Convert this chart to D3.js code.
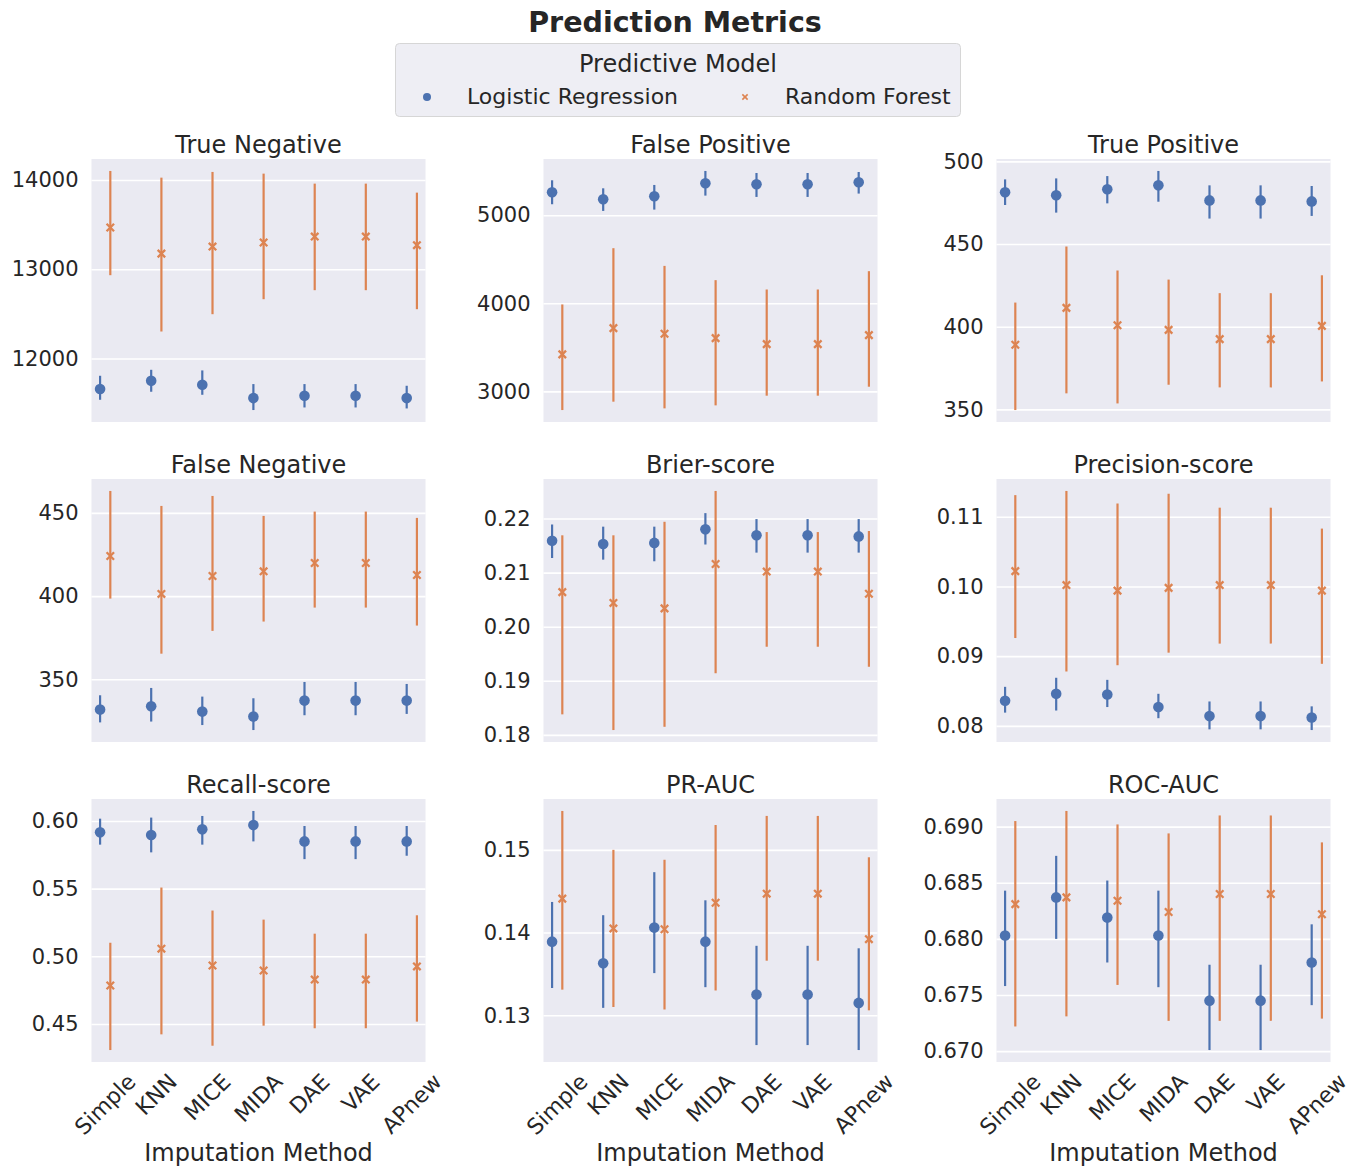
<!DOCTYPE html>
<html>
<head>
<meta charset="utf-8">
<script src="https://cdn.jsdelivr.net/npm/d3@7"></script>
<style>
  body { margin: 0; background: #fff; }
  svg text { font-family: "DejaVu Sans", sans-serif; fill: #262626; }
</style>
</head>
<body>
<div class="chart"></div>
<script>

const FRAME_WIDTH = 1356;
const FRAME_HEIGHT = 1170;

const CATEGORIES = ["Simple", "KNN", "MICE", "MIDA", "DAE", "VAE", "APnew"];
const MODELS = ["Logistic Regression", "Random Forest"];
const COLORS = ["#4C72B0", "#DD8452"];
const TITLES = ["True Negative", "False Positive", "True Positive",
                "False Negative", "Brier-score", "Precision-score",
                "Recall-score", "PR-AUC", "ROC-AUC"];

// [mean, low, high] for each imputation method
const TN_LR = [[11657,11537,11806],[11750,11627,11873],[11705,11593,11866],[11556,11422,11713],[11582,11451,11713],[11582,11451,11713],[11556,11440,11694]];
const TN_RF = [[13467,12933,14101],[13175,12302,14026],[13254,12496,14090],[13299,12664,14071],[13366,12765,13959],[13366,12765,13959],[13269,12552,13858]];
const FP_LR = [[5261,5125,5397],[5181,5049,5306],[5215,5064,5344],[5363,5223,5503],[5352,5208,5480],[5352,5208,5480],[5374,5246,5491]];
const FP_RF = [[3420,2788,3987],[3718,2883,4626],[3654,2807,4425],[3605,2841,4263],[3537,2951,4157],[3537,2951,4157],[3639,3053,4365]];
const TP_LR = [[481.3,473.6,489.1],[479.5,469.0,489.7],[483.1,474.6,491.1],[485.5,475.6,494.2],[476.4,465.4,485.5],[476.4,465.4,485.5],[475.8,467.0,485.1]];
const TP_RF = [[389.1,349.6,414.6],[411.4,359.7,448.5],[400.9,353.6,434.0],[398.1,364.9,428.5],[392.5,363.3,420.3],[392.5,363.3,420.3],[400.5,366.9,431.1]];
const FN_LR = [[331.8,324.1,340.4],[333.8,324.6,344.8],[330.6,322.5,339.6],[327.6,319.5,338.6],[337.2,328.4,348.4],[337.2,328.4,348.4],[337.2,329.2,347.2]];
const FN_RF = [[424.1,398.5,463.2],[401.3,365.4,454.2],[412.1,379.1,460.2],[414.9,384.7,448.2],[419.9,393.1,450.8],[419.9,393.1,450.8],[412.7,382.3,447.0]];
const BRIER_LR = [[0.2159,0.2127,0.2189],[0.2153,0.2124,0.2185],[0.2155,0.2121,0.2185],[0.2180,0.2152,0.2210],[0.2169,0.2137,0.2199],[0.2169,0.2137,0.2199],[0.2167,0.2137,0.2199]];
const BRIER_RF = [[0.2064,0.1838,0.2169],[0.2044,0.1809,0.2169],[0.2034,0.1815,0.2194],[0.2116,0.1914,0.2251],[0.2102,0.1963,0.2175],[0.2102,0.1963,0.2175],[0.2061,0.1926,0.2177]];
const PREC_LR = [[0.0836,0.0819,0.0856],[0.0846,0.0822,0.0869],[0.0845,0.0827,0.0866],[0.0827,0.0811,0.0846],[0.0814,0.0795,0.0835],[0.0814,0.0795,0.0835],[0.0812,0.0794,0.0828]];
const PREC_RF = [[0.1022,0.0926,0.1131],[0.1002,0.0878,0.1137],[0.0994,0.0887,0.1119],[0.0998,0.0905,0.1133],[0.1002,0.0918,0.1113],[0.1002,0.0918,0.1113],[0.0994,0.0889,0.1083]];
const RECALL_LR = [[0.5916,0.5825,0.6017],[0.5896,0.5768,0.6025],[0.5938,0.5825,0.6037],[0.5970,0.5849,0.6074],[0.5849,0.5718,0.5963],[0.5849,0.5718,0.5963],[0.5849,0.5743,0.5963]];
const RECALL_RF = [[0.4784,0.4307,0.5100],[0.5056,0.4423,0.5508],[0.4932,0.4339,0.5338],[0.4895,0.4487,0.5271],[0.4828,0.4468,0.5167],[0.4828,0.4468,0.5167],[0.4925,0.4517,0.5303]];
const PRAUC_LR = [[0.1389,0.1333,0.1437],[0.1363,0.1309,0.1421],[0.1406,0.1351,0.1473],[0.1389,0.1334,0.1439],[0.1325,0.1264,0.1384],[0.1325,0.1264,0.1384],[0.1315,0.1258,0.1381]];
const PRAUC_RF = [[0.1441,0.1331,0.1547],[0.1405,0.1310,0.1500],[0.1404,0.1307,0.1488],[0.1436,0.1330,0.1530],[0.1447,0.1366,0.1541],[0.1447,0.1366,0.1541],[0.1392,0.1306,0.1491]];
const ROCAUC_LR = [[0.6803,0.6758,0.6843],[0.6837,0.6800,0.6874],[0.6819,0.6779,0.6852],[0.6803,0.6757,0.6843],[0.6745,0.6701,0.6777],[0.6745,0.6701,0.6777],[0.6779,0.6741,0.6813]];
const ROCAUC_RF = [[0.6831,0.6722,0.6905],[0.6837,0.6731,0.6914],[0.6834,0.6759,0.6902],[0.6824,0.6727,0.6894],[0.6840,0.6727,0.6910],[0.6840,0.6727,0.6910],[0.6822,0.6729,0.6886]];

// y tick values per panel
const TN_TICKS = [12000, 13000, 14000];
const FP_TICKS = [3000, 4000, 5000];
const TP_TICKS = [350, 400, 450, 500];
const FN_TICKS = [350, 400, 450];
const BRIER_TICKS = [0.18, 0.19, 0.20, 0.21, 0.22];
const PREC_TICKS = [0.08, 0.09, 0.10, 0.11];
const RECALL_TICKS = [0.45, 0.50, 0.55, 0.60];
const PRAUC_TICKS = [0.13, 0.14, 0.15];
const ROCAUC_TICKS = [0.670, 0.675, 0.680, 0.685, 0.690];

const PANELS = [
    {series: [TN_LR, TN_RF], ticks: TN_TICKS, fmt: d3.format("d")},
    {series: [FP_LR, FP_RF], ticks: FP_TICKS, fmt: d3.format("d")},
    {series: [TP_LR, TP_RF], ticks: TP_TICKS, fmt: d3.format("d")},
    {series: [FN_LR, FN_RF], ticks: FN_TICKS, fmt: d3.format("d")},
    {series: [BRIER_LR, BRIER_RF], ticks: BRIER_TICKS, fmt: d3.format(".2f")},
    {series: [PREC_LR, PREC_RF], ticks: PREC_TICKS, fmt: d3.format(".2f")},
    {series: [RECALL_LR, RECALL_RF], ticks: RECALL_TICKS, fmt: d3.format(".2f")},
    {series: [PRAUC_LR, PRAUC_RF], ticks: PRAUC_TICKS, fmt: d3.format(".2f")},
    {series: [ROCAUC_LR, ROCAUC_RF], ticks: ROCAUC_TICKS, fmt: d3.format(".3f")}
];

const PANEL_W = 334;
const PANEL_H = 263;
const COL_X = [91.5, 543.5, 996.5];
const ROW_Y = [159, 479, 799];
const DODGE = 0.1;

const FRAME = d3.select(".chart")
                .append("svg")
                .attr("width", FRAME_WIDTH)
                .attr("height", FRAME_HEIGHT);

// main title
FRAME.append("text")
    .attr("x", 675)
    .attr("y", 32)
    .attr("text-anchor", "middle")
    .attr("font-size", 28.5)
    .attr("font-weight", "bold")
    .text("Prediction Metrics");

// legend
const LEGEND = FRAME.append("g");
LEGEND.append("rect")
    .attr("x", 395.5).attr("y", 43.5)
    .attr("width", 565).attr("height", 73)
    .attr("rx", 4)
    .attr("fill", "#EEEEF4")
    .attr("stroke", "#D6D6D6");
LEGEND.append("text")
    .attr("x", 678).attr("y", 72)
    .attr("text-anchor", "middle")
    .attr("font-size", 24)
    .text("Predictive Model");

const LEG_X = [427, 745];
MODELS.forEach((m, i) => {
    if (i === 0) {
        LEGEND.append("circle")
            .attr("cx", LEG_X[i]).attr("cy", 97)
            .attr("r", 4).attr("fill", COLORS[i]);
    } else {
        LEGEND.append("path")
            .attr("transform", "translate(" + LEG_X[i] + ",97)")
            .attr("d", d3.symbol(d3.symbolX, 20)())
            .attr("stroke", COLORS[i]).attr("stroke-width", 1.6).attr("fill", "none");
    }
    LEGEND.append("text")
        .attr("x", LEG_X[i] + 40).attr("y", 104)
        .attr("font-size", 22)
        .text(m);
});

PANELS.forEach((p, idx) => {
    const col = idx % 3;
    const row = Math.floor(idx / 3);
    const g = FRAME.append("g")
        .attr("transform", "translate(" + COL_X[col] + "," + ROW_Y[row] + ")");

    const X_SCALE = d3.scaleLinear().domain([-0.268, 6.268]).range([0, PANEL_W]);

    const all = p.series.flat();
    const lo = d3.min(all, (d) => d[1]);
    const hi = d3.max(all, (d) => d[2]);
    const pad = (hi - lo) * 0.05;
    const Y_SCALE = d3.scaleLinear().domain([lo - pad, hi + pad]).range([PANEL_H, 0]);

    g.append("rect")
        .attr("width", PANEL_W).attr("height", PANEL_H)
        .attr("fill", "#EAEAF2");

    // grid
    g.append("g")
        .call(d3.axisLeft(Y_SCALE).tickValues(p.ticks).tickSize(-PANEL_W).tickFormat(""))
        .call((s) => s.select(".domain").remove())
        .selectAll("line")
            .attr("stroke", "#fff")
            .attr("stroke-width", 1.6);

    // y tick labels
    g.append("g")
        .call(d3.axisLeft(Y_SCALE).tickValues(p.ticks).tickSize(0).tickPadding(13).tickFormat(p.fmt))
        .call((s) => s.select(".domain").remove())
        .attr("font-family", "DejaVu Sans")
        .attr("font-size", 21);

    g.append("text")
        .attr("x", PANEL_W / 2)
        .attr("y", -6)
        .attr("text-anchor", "middle")
        .attr("font-size", 24)
        .text(TITLES[idx]);

    p.series.forEach((data, m) => {
        const off = m === 0 ? -DODGE : DODGE;
        g.selectAll(".err" + m)
            .data(data)
            .enter()
            .append("line")
                .attr("x1", (d, i) => X_SCALE(i + off))
                .attr("x2", (d, i) => X_SCALE(i + off))
                .attr("y1", (d) => Y_SCALE(d[1]))
                .attr("y2", (d) => Y_SCALE(d[2]))
                .attr("stroke", COLORS[m])
                .attr("stroke-width", 2.2);

        if (m === 0) {
            g.selectAll(".pt" + m)
                .data(data)
                .enter()
                .append("circle")
                    .attr("cx", (d, i) => X_SCALE(i + off))
                    .attr("cy", (d) => Y_SCALE(d[0]))
                    .attr("r", 5.3)
                    .attr("fill", COLORS[m]);
        } else {
            g.selectAll(".pt" + m)
                .data(data)
                .enter()
                .append("path")
                    .attr("transform", (d, i) => "translate(" + X_SCALE(i + off) + "," + Y_SCALE(d[0]) + ")")
                    .attr("d", d3.symbol(d3.symbolX, 38)())
                    .attr("stroke", COLORS[m])
                    .attr("stroke-width", 2.3)
                    .attr("fill", "none");
        }
    });

    if (row === 2) {
        CATEGORIES.forEach((c, i) => {
            const t = g.append("text")
                .attr("font-size", 22)
                .attr("text-anchor", "middle")
                .attr("dominant-baseline", "central")
                .text(c);
            const w = t.node().getComputedTextLength();
            const h = 22;
            const cy = PANEL_H + 8 + (w + h) * 0.3536;
            t.attr("transform", "translate(" + X_SCALE(i) + "," + cy + ") rotate(-45)");
        });
        g.append("text")
            .attr("x", PANEL_W / 2)
            .attr("y", 1161 - ROW_Y[2])
            .attr("text-anchor", "middle")
            .attr("font-size", 24)
            .text("Imputation Method");
    }
});

</script>
</body>
</html>
